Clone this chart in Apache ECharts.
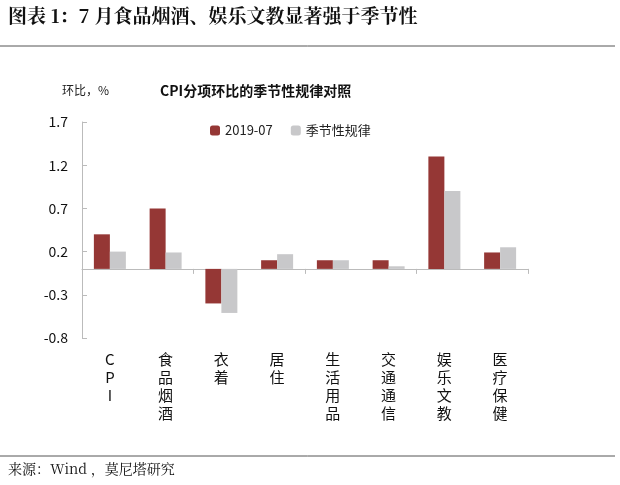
<!DOCTYPE html><html><head><meta charset="utf-8"><script src="https://cdn.jsdelivr.net/npm/echarts@6/dist/echarts.min.js"></script></head><body style="margin:0;background:#fff"><div id="c" style="width:620px;height:485px"></div><script>
const categories=['CPI','食品烟酒','衣着','居住','生活用品','交通通信','娱乐文教','医疗保健'];
const s2019=[0.4,0.7,-0.4,0.1,0.1,0.1,1.3,0.19];
const seasonal=[0.2,0.19,-0.51,0.17,0.1,0.03,0.9,0.25];
const yTicks={min:-0.8,max:1.7,interval:0.5};
const ch=echarts.init(document.getElementById('c'));
const f='"Noto Sans CJK SC", sans-serif';
ch.setOption({
animation:false,
graphic:[
{type:'text',left:8,top:6,style:{text:'图表 1：7 月食品烟酒、娱乐文教显著强于季节性',font:'bold 19px "Noto Serif CJK SC","Noto Sans CJK SC",serif',fill:'#111'}},
{type:'line',shape:{x1:0,y1:46,x2:615,y2:46},style:{stroke:'#555',lineWidth:1}},
{type:'text',left:62,top:84,style:{text:'环比，%',font:'12px '+f,fill:'#222'}},
{type:'text',left:160,top:84,style:{text:'CPI分项环比的季节性规律对照',font:'bold 14px '+f,fill:'#111'}},
{type:'line',shape:{x1:0,y1:456,x2:615,y2:456},style:{stroke:'#555',lineWidth:1}},
{type:'text',left:8,top:462,style:{text:'来源：Wind ，莫尼塔研究',font:'14px "Noto Serif CJK SC","Noto Sans CJK SC",serif',fill:'#111'}}
],
legend:{top:119,left:205,itemWidth:10,itemHeight:10,itemGap:18,textStyle:{fontSize:13,fontFamily:f,color:'#222'},data:['2019-07','季节性规律']},
grid:{left:82,right:92,top:122,bottom:147},
xAxis:[
{type:'category',data:categories,axisLine:{onZero:true,lineStyle:{color:'#bbb'}},axisTick:{show:true,lineStyle:{color:'#bbb'}},axisLabel:{show:false}},
{type:'category',data:categories,position:'bottom',axisLine:{show:false,onZero:false},axisTick:{show:false},axisLabel:{interval:0,margin:12,fontSize:15,fontFamily:f,color:'#111',lineHeight:18,formatter:v=>v.split('').join('\n')}}
],
yAxis:{type:'value',min:yTicks.min,max:yTicks.max,interval:yTicks.interval,splitLine:{show:false},axisLine:{show:true,lineStyle:{color:'#bbb'}},axisTick:{show:true,inside:true,lineStyle:{color:'#bbb'}},axisLabel:{fontSize:14,fontFamily:f,color:'#111',margin:14,formatter:v=>(Math.round(v*10)/10).toFixed(1)}},
series:[
{name:'2019-07',type:'bar',data:s2019,barWidth:16,barGap:'0%',itemStyle:{color:'#953735'}},
{name:'季节性规律',type:'bar',data:seasonal,barWidth:16,itemStyle:{color:'#c8c8ca'}}
]
});
</script></body></html>
